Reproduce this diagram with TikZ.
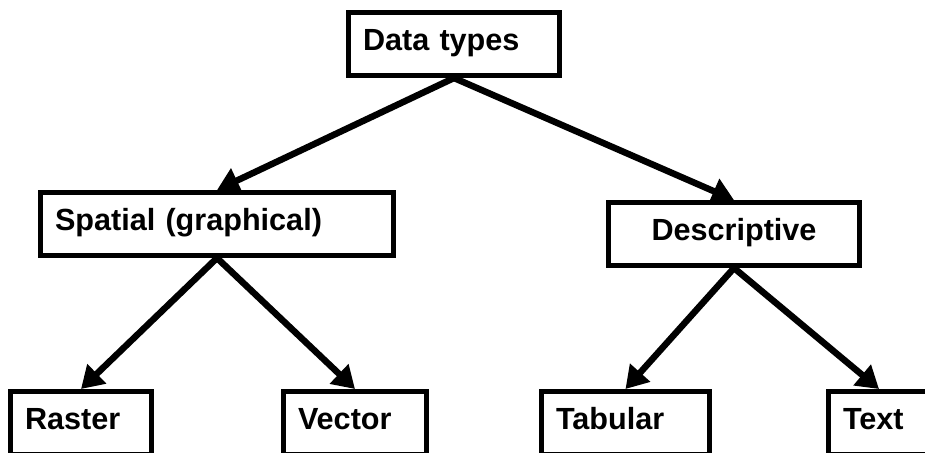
\documentclass[tikz,border=0pt]{standalone}
\usepackage{fontspec}
\setmainfont{Liberation Sans}
\usetikzlibrary{arrows.meta}

\tikzset{
    box/.style = {draw, line width=5pt, anchor=north west, align=left,
        inner xsep=14.5pt, inner ysep=15.5pt, text height=22pt, text depth=10pt,
        font=\fontsize{30.6}{36}\selectfont\bfseries},
    link/.style = {line width=6.5pt, -{Triangle[length=22pt,width=26pt]}}
}

\begin{document}
\begin{tikzpicture}[x=1pt, y=-1pt]
    \clip (0,0) rectangle (925,452);

    % top level
    \node[box, text width=182pt] (dtypes) at (346,10) {Data types};

    % second level
    \node[box, text width=324pt] (spatial) at (38,190) {Spatial (graphical)};
    \node[box, text width=222pt, align=center] (descr) at (606,200) {Descriptive};

    % bottom row, cut off by the page
    \node[box, text width=112pt] (raster) at (8,389) {Raster};
    \node[box, text width=114pt] (vector) at (281,389) {Vector};
    \node[box, text width=139pt] (tabular) at (539,389) {Tabular};
    \node[box, text width=72pt] (txt) at (826,389) {Text};

    \draw[link] (dtypes.south) -- (spatial.north);
    \draw[link] (dtypes.south) -- (descr.north);

    \draw[link] (spatial.south) -- (raster.north);
    \draw[link] (spatial.south) -- (vector.north);

    \draw[link] (descr.south) -- (tabular.north);
    \draw[link] (descr.south) -- (txt.north);
\end{tikzpicture}
\end{document}
